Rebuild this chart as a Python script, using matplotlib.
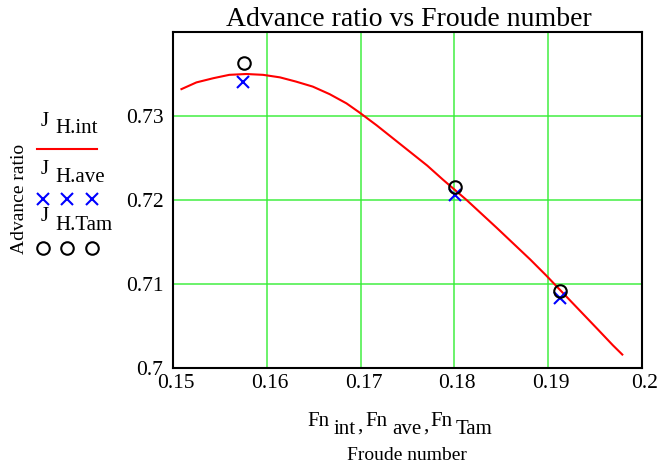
import matplotlib
matplotlib.use('Agg')
import matplotlib.pyplot as plt
import matplotlib.transforms as mtransforms
from matplotlib.lines import Line2D
import numpy as np

# interpolated curve J_H.int
fn_int = [0.1509, 0.1525, 0.1543, 0.1560, 0.1578, 0.1596, 0.1614, 0.1631, 0.1649,
          0.1667, 0.1685, 0.1699, 0.1717, 0.1735, 0.1753, 0.1771, 0.1788, 0.1813,
          0.1845, 0.1863, 0.1881, 0.1898, 0.1916, 0.1934, 0.1952, 0.1969, 0.1979]
j_int = [0.7332, 0.7340, 0.7345, 0.7349, 0.7350, 0.7349, 0.7346, 0.7341, 0.7335,
         0.7326, 0.7315, 0.7304, 0.7289, 0.7273, 0.7257, 0.7241, 0.7224, 0.7200,
         0.7167, 0.7148, 0.7129, 0.7110, 0.7089, 0.7068, 0.7047, 0.7027, 0.7016]

# measured points
fn_ave = [0.1575, 0.1801, 0.1913]
j_ave = [0.7341, 0.7206, 0.7083]
fn_tam = [0.1576, 0.1801, 0.1913]
j_tam = [0.7363, 0.7215, 0.7092]

xticks = [0.15, 0.16, 0.17, 0.18, 0.19, 0.2]
xticklabels = ['0.15', '0.16', '0.17', '0.18', '0.19', '0.2']
yticks = [0.7, 0.71, 0.72, 0.73]
yticklabels = ['0.7', '0.71', '0.72', '0.73']

plt.rcParams['font.family'] = 'Liberation Serif'

W, H = 659, 467
fig = plt.figure(figsize=(W / 100, H / 100), dpi=100)
ax = fig.add_axes([173 / W, 1 - 368 / H, (642 - 173) / W, (368 - 32) / H])

ax.plot(fn_int, j_int, color='red', lw=1.5, zorder=3, solid_joinstyle='round')
ax.plot(fn_ave, j_ave, ls='none', marker='x', ms=9, mew=1.5, color='blue', zorder=4)
ax.plot(fn_tam, j_tam, ls='none', marker='o', ms=9, mew=1.5, mfc='none', mec='black', zorder=5)

ax.set_xlim(0.15, 0.2)
ax.set_ylim(0.7, 0.74)
ax.set_xticks(xticks)
ax.set_xticklabels(xticklabels, fontsize=15.5)
ax.set_yticks(yticks)
ax.set_yticklabels(yticklabels, fontsize=15.5)
ax.tick_params(length=0)
ax.tick_params(axis='y', pad=7)
ax.tick_params(axis='x', pad=4)
# x tick labels sit a few pixels right of their grid lines
shift = mtransforms.ScaledTranslation(3 / 100, 0, fig.dpi_scale_trans)
for lab in ax.get_xticklabels():
    lab.set_transform(lab.get_transform() + shift)
ax.grid(True, color='#33ee33', lw=1.2, alpha=0.85)
ax.axvline(0.2, color='#33ee33', lw=1.2, alpha=0.85)
for s in ax.spines.values():
    s.set_linewidth(1.5)
    s.set_color('black')

fig.text(409 / W, 1 - 19 / H, 'Advance ratio vs Froude number', ha='center', va='center', fontsize=20)

# y label
fig.text(20 / W, 1 - 199 / H, 'Advance ratio', rotation=90, ha='center', va='center', fontsize=14)

# x label pieces
xl = [('Fn', 307, 422), ('int', 334, 430), (',', 357, 426), ('Fn', 365, 422), ('ave', 392, 430),
      (',', 423, 426), ('Fn', 430, 422), ('Tam', 456, 430)]
for t, x, y in xl:
    fig.text(x / W, 1 - y / H, t, ha='left', va='center', fontsize=15)
fig.text(407 / W, 1 - 455 / H, 'Froude number', ha='center', va='center', fontsize=14)

# legend on the left
leg = [('H.int', 122, 128), ('H.ave', 170, 177), ('H.Tam', 217, 226)]
for sub, yj, ys in leg:
    fig.text(41 / W, 1 - yj / H, 'J', ha='left', va='center', fontsize=15)
    fig.text(55 / W, 1 - ys / H, sub, ha='left', va='center', fontsize=15)
fig.add_artist(Line2D([37 / W, 97 / W], [1 - 149 / H, 1 - 149 / H], color='red', lw=1.5))
mx = np.array([43, 67, 92]) / W
fig.add_artist(Line2D(mx, [1 - 199 / H] * 3, ls='none', marker='x', ms=9, mew=1.5, color='blue'))
fig.add_artist(Line2D(mx, [1 - 248 / H] * 3, ls='none', marker='o', ms=9, mew=1.5,
                      mfc='none', mec='black'))

fig.savefig('out.png', dpi=100)
